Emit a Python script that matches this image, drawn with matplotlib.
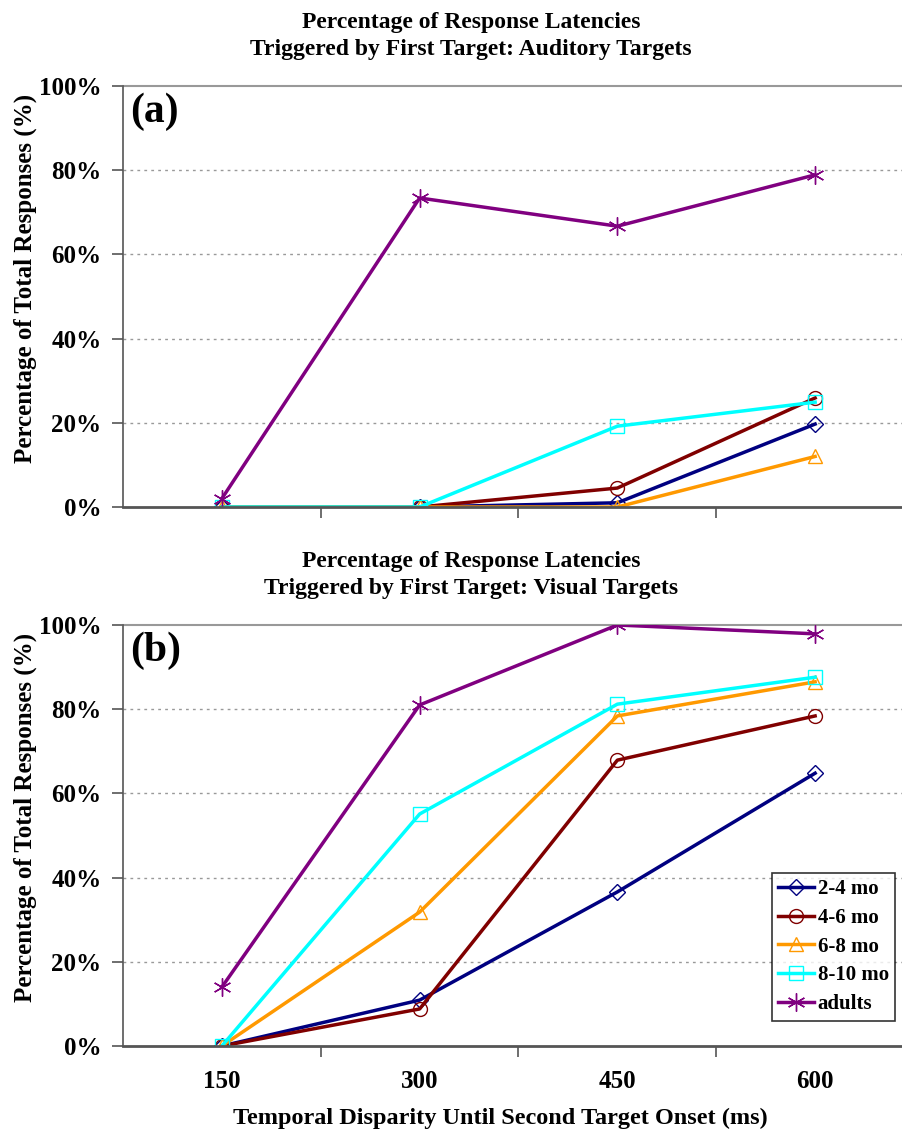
import matplotlib
matplotlib.use("Agg")
import matplotlib.pyplot as plt
from matplotlib.ticker import PercentFormatter

plt.rcParams['font.family'] = ['Liberation Serif', 'DejaVu Serif']
plt.rcParams['font.weight'] = 'bold'

# datos
disparidades = ['150', '300', '450', '600']
grupos = ['2-4 mo', '4-6 mo', '6-8 mo', '8-10 mo', 'adults']
colores = ['#000080', '#800000', '#FF9900', '#00FFFF', '#800080']
marcadores = ['D', 'o', '^', 's', '*']

auditivo_2_4 = [0.0, 0.0, 1.0, 19.7]
auditivo_4_6 = [0.0, 0.0, 4.5, 25.9]
auditivo_6_8 = [0.0, 0.0, 0.0, 12.0]
auditivo_8_10 = [0.0, 0.0, 19.2, 24.9]
auditivo_adultos = [2.0, 73.4, 66.7, 78.9]

visual_2_4 = [0.0, 10.9, 36.6, 64.8]
visual_4_6 = [0.0, 8.8, 67.9, 78.4]
visual_6_8 = [0.0, 31.8, 78.4, 86.5]
visual_8_10 = [0.0, 55.1, 81.2, 87.6]
visual_adultos = [14.0, 81.0, 100.0, 97.9]

auditivo = [auditivo_2_4, auditivo_4_6, auditivo_6_8, auditivo_8_10, auditivo_adultos]
visual = [visual_2_4, visual_4_6, visual_6_8, visual_8_10, visual_adultos]

W, H = 902, 1131
fig = plt.figure(figsize=(W / 100, H / 100), dpi=100)


def fx(px):
    return px / W


def fy(py):
    return 1 - py / H


def ax_rect(top_px, bottom_px, left_px=123, right_px=914):
    return [fx(left_px), fy(bottom_px), (right_px - left_px) / W, (bottom_px - top_px) / H]


ax_a = fig.add_axes(ax_rect(86, 507))
ax_b = fig.add_axes(ax_rect(625, 1046))

x = list(range(len(disparidades)))
tam_marcador = {'D': 8, 'o': 10, '^': 10, 's': 10, '*': 13}


def dibujar(ax, series, mostrar_x):
    for serie, nombre, c, m in zip(series, grupos, colores, marcadores):
        ax.plot(x, serie, color=c, lw=2.5, label=nombre, zorder=3,
                marker=m if m != '*' else (6, 2, 0), ms=tam_marcador[m],
                mfc='none', mec=c, mew=1.0)
    ax.set_xlim(-0.5, 3.5)
    ax.set_ylim(0, 100)
    ax.set_yticks([0, 20, 40, 60, 80, 100])
    ax.yaxis.set_major_formatter(PercentFormatter(decimals=0))
    ax.set_xticks([0.5, 1.5, 2.5, 3.5])
    ax.set_xticks(x, minor=True)
    ax.tick_params(axis='x', which='major', direction='out', length=8,
                   width=1.2, colors='#555555', labelbottom=False)
    ax.tick_params(axis='x', which='minor', length=0, labelsize=18,
                   labelcolor='black', pad=17, labelbottom=mostrar_x)
    if mostrar_x:
        ax.set_xticklabels(disparidades, minor=True, fontweight='bold')
    ax.tick_params(axis='y', direction='out', length=8, width=1.2,
                   colors='#555555', labelcolor='black', labelsize=18, pad=7.5)
    for lbl in ax.get_yticklabels():
        lbl.set_fontweight('bold')
    for y in [20, 40, 60, 80]:
        ax.axhline(y, color='#999999', lw=1.0, ls=(0, (2, 3)), zorder=1)
    ax.spines['right'].set_visible(False)
    ax.spines['top'].set_color('#999999')
    ax.spines['top'].set_linewidth(1.5)
    ax.spines['left'].set_color('#555555')
    ax.spines['left'].set_linewidth(1.2)
    ax.spines['bottom'].set_color('#555555')
    ax.spines['bottom'].set_linewidth(2.0)
    for lado in ['left', 'bottom']:
        ax.spines[lado].set_zorder(4)


dibujar(ax_a, auditivo, False)
dibujar(ax_b, visual, True)

# titulos, etiquetas de panel y ejes (desplazamiento vertical entre paneles: 539 px)
for dy, modalidad, panel in [(0, 'Auditory', '(a)'), (539, 'Visual', '(b)')]:
    fig.text(fx(471), fy(28 + dy), 'Percentage of Response Latencies',
             ha='center', va='baseline', fontsize=17, fontweight='bold')
    fig.text(fx(471), fy(55 + dy), 'Triggered by First Target: %s Targets' % modalidad,
             ha='center', va='baseline', fontsize=17, fontweight='bold')
    fig.text(fx(130), fy(122 + dy), panel, ha='left', va='baseline',
             fontsize=30, fontweight='bold')
    fig.text(fx(25), fy(278 + dy), 'Percentage of Total Responses (%)',
             rotation=90, ha='center', va='center', fontsize=18, fontweight='bold')

fig.text(fx(233), fy(1124), 'Temporal Disparity Until Second Target Onset (ms)',
         ha='left', va='baseline', fontsize=17.5, fontweight='bold')

leg = ax_b.legend(loc='upper left', bbox_to_anchor=(fx(772), fy(873)),
                  bbox_transform=fig.transFigure, prop={'size': 15, 'weight': 'bold'},
                  frameon=True, fancybox=False, edgecolor='black', handlelength=1.7,
                  handletextpad=0.2, borderpad=0.3, labelspacing=0.42,
                  borderaxespad=0)
leg.get_frame().set_linewidth(1.2)

fig.savefig('out.png', dpi=100)
